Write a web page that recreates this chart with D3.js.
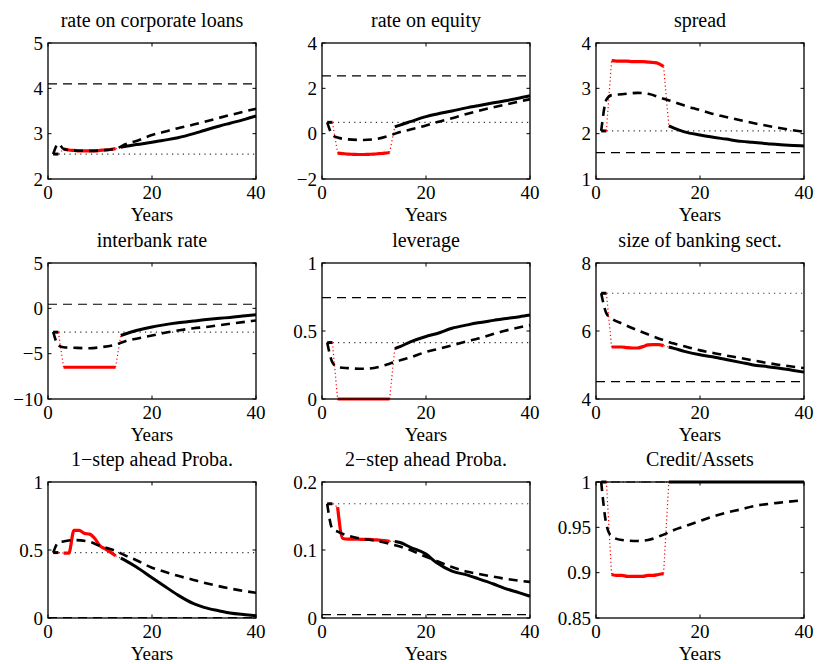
<!DOCTYPE html>
<html><head><meta charset="utf-8">
<script src="https://cdn.jsdelivr.net/npm/d3@7"></script>
<style>
body{margin:0;background:#fff}
svg{display:block}
text{font-family:"Liberation Serif","Times New Roman",serif;fill:#000}
</style></head><body>
<svg id="chart" width="818" height="664"></svg>
<script>
// ---------- data ----------
const titles = ["rate on corporate loans","rate on equity","spread",
  "interbank rate","leverage","size of banking sect.",
  "1\u2212step ahead Proba.","2\u2212step ahead Proba.","Credit/Assets"];
const yDomains = [[2,5],[-2,4],[1,4],[-10,5],[0,1],[4,8],[0,1],[0,0.2],[0.85,1]];
const yTicks = [[2,3,4,5],[-2,0,2,4],[1,2,3,4],[-10,-5,0,5],[0,0.5,1],[4,6,8],[0,0.5,1],[0,0.1,0.2],[0.85,0.9,0.95,1]];
const xTicks = [0,20,40];
const xLabel = "Years";

// dotted horizontal level (initial steady state) and dashed horizontal level
const dottedLevel = [2.55, 0.5, 2.06, -2.63, 0.415, 7.11, 0.481, 0.168, 1.0];
const dashedLevel = [4.1, 2.55, 1.58, 0.45, 0.745, 4.51, 0.003, 0.005, 1.0];

const tDash  = [1,2,3,5,8,10,13,15,17,20,22,25,28,30,35,40];
const tStart = [1,2];
const tRed   = [3,4,5,6,7,8,9,10,11,12,13];
const tBlack = [14,15,17,20,22,25,28,30,33,35,38,40];

const dashVals = [
  [2.55,2.78,2.66,2.63,2.62,2.63,2.67,2.77,2.84,2.97,3.03,3.12,3.2,3.26,3.41,3.55],
  [0.5,-0.05,-0.17,-0.25,-0.28,-0.25,-0.08,0.07,0.18,0.36,0.5,0.68,0.88,1.0,1.27,1.52],
  [2.06,2.75,2.85,2.87,2.9,2.88,2.77,2.7,2.62,2.52,2.45,2.37,2.29,2.24,2.13,2.04],
  [-2.6,-4.1,-4.3,-4.35,-4.4,-4.3,-4.0,-3.6,-3.35,-3.0,-2.75,-2.45,-2.2,-2.08,-1.7,-1.34],
  [0.415,0.27,0.235,0.227,0.222,0.228,0.26,0.284,0.305,0.346,0.365,0.395,0.425,0.444,0.5,0.543],
  [7.11,6.52,6.37,6.22,6.02,5.9,5.73,5.63,5.55,5.43,5.37,5.28,5.2,5.14,5.01,4.91],
  [0.48,0.556,0.563,0.573,0.56,0.53,0.494,0.457,0.425,0.37,0.345,0.31,0.28,0.26,0.217,0.185],
  [0.168,0.131,0.127,0.121,0.116,0.114,0.109,0.105,0.1,0.09,0.084,0.075,0.068,0.065,0.058,0.053],
  [1.0,0.953,0.94,0.936,0.935,0.936,0.942,0.947,0.951,0.957,0.961,0.966,0.97,0.973,0.977,0.98]
];
const startVals = [
  [2.55,2.55],[0.5,0.5],[2.06,2.06],[-2.63,-2.63],[0.415,0.415],[7.11,7.11],[0.481,0.481],[0.168,0.168],[1.0,1.0]
];
const redVals = [
  [2.66,2.64,2.63,2.62,2.62,2.62,2.62,2.63,2.64,2.65,2.67],
  [-0.86,-0.88,-0.9,-0.91,-0.92,-0.92,-0.91,-0.9,-0.88,-0.86,-0.83],
  [3.61,3.6,3.6,3.6,3.59,3.59,3.59,3.58,3.57,3.55,3.48],
  [-6.5,-6.5,-6.5,-6.5,-6.5,-6.5,-6.5,-6.5,-6.5,-6.5,-6.5],
  [0,0,0,0,0,0,0,0,0,0,0],
  [5.53,5.53,5.53,5.51,5.5,5.5,5.54,5.59,5.6,5.6,5.57],
  [0.477,0.477,0.645,0.645,0.622,0.617,0.585,0.53,0.508,0.485,0.458],
  [0.163,0.117,0.116,0.116,0.116,0.1155,0.1155,0.115,0.1145,0.114,0.1126],
  [0.898,0.897,0.897,0.896,0.896,0.896,0.896,0.897,0.897,0.898,0.899]
];
const blackVals = [
  [2.70,2.72,2.76,2.81,2.85,2.91,3.0,3.07,3.17,3.23,3.32,3.39],
  [0.3,0.38,0.53,0.75,0.86,1.0,1.15,1.23,1.36,1.44,1.57,1.67],
  [2.17,2.12,2.04,1.97,1.93,1.88,1.83,1.81,1.78,1.76,1.74,1.73],
  [-3.0,-2.8,-2.45,-2.05,-1.85,-1.6,-1.4,-1.27,-1.1,-1.0,-0.82,-0.71],
  [0.37,0.385,0.42,0.46,0.48,0.52,0.545,0.56,0.578,0.59,0.605,0.617],
  [5.53,5.49,5.4,5.3,5.25,5.16,5.07,5.01,4.95,4.91,4.84,4.79],
  [0.44,0.42,0.375,0.296,0.245,0.168,0.105,0.078,0.052,0.036,0.024,0.017],
  [0.1126,0.111,0.104,0.094,0.0815,0.069,0.063,0.058,0.05,0.044,0.037,0.032],
  [1,1,1,1,1,1,1,1,1,1,1,1]
];

// ---------- layout ----------
const colX = [48, 322, 596], rowY = [43, 263, 482];
const W = 208, H = 136;
const FONT = 19, TFONT = 20;
const svg = d3.select("#chart");
const fmt = d => {
  const s = String(+Math.abs(d).toFixed(3));
  return (d < 0 ? "\u2212" : "") + s;
};
const zip = (ts, vs) => ts.map((t, i) => [t, vs[i]]);

titles.forEach((title, k) => {
  const left = colX[k % 3], top = rowY[Math.floor(k / 3)];
  const g = svg.append("g").attr("transform", `translate(${left},${top})`);
  const x = d3.scaleLinear().domain([0, 40]).range([0, W]);
  const y = d3.scaleLinear().domain(yDomains[k]).range([H, 0]);
  const line = d3.line().x(d => x(d[0])).y(d => y(d[1]));
  const smooth = d3.line().x(d => x(d[0])).y(d => y(d[1])).curve(d3.curveMonotoneX);

  // horizontal reference lines
  g.append("path").attr("d", line([[0, dashedLevel[k]], [40, dashedLevel[k]]]))
    .attr("fill", "none").attr("stroke", "#000").attr("stroke-width", 1.2)
    .attr("stroke-dasharray", "9,6");
  g.append("path").attr("d", line([[1, dottedLevel[k]], [40, dottedLevel[k]]]))
    .attr("fill", "none").attr("stroke", "#333").attr("stroke-width", 1.2)
    .attr("stroke-dasharray", "1.2,4.2");

  // solid path: black start, red dotted transitions, red regime, black after
  const start = zip(tStart, startVals[k]);
  const red = zip(tRed, redVals[k]);
  const black = zip(tBlack, blackVals[k]);
  g.append("path").attr("d", line(start)).attr("fill", "none")
    .attr("stroke", "#000").attr("stroke-width", 3);
  g.append("path").attr("d", smooth(black)).attr("fill", "none")
    .attr("stroke", "#000").attr("stroke-width", 3);
  [[start[start.length - 1], red[0]], [red[red.length - 1], black[0]]].forEach(seg => {
    g.append("path").attr("d", line(seg)).attr("fill", "none")
      .attr("stroke", "#ff0000").attr("stroke-width", 1.2)
      .attr("stroke-dasharray", "1.2,2.6");
  });
  g.append("path").attr("d", smooth(red)).attr("fill", "none")
    .attr("stroke", "#ff0000").attr("stroke-width", 3.2);

  // dashed alternative path
  g.append("path").attr("d", smooth(zip(tDash, dashVals[k]))).attr("fill", "none")
    .attr("stroke", "#000").attr("stroke-width", 2.6)
    .attr("stroke-dasharray", "9,6");

  // box and inward ticks
  g.append("rect").attr("x", 0).attr("y", 0).attr("width", W).attr("height", H)
    .attr("fill", "none").attr("stroke", "#000").attr("stroke-width", 1.3);
  const tl = 3.5;
  xTicks.forEach(t => {
    g.append("line").attr("x1", x(t)).attr("x2", x(t)).attr("y1", H).attr("y2", H - tl).attr("stroke", "#000");
    g.append("line").attr("x1", x(t)).attr("x2", x(t)).attr("y1", 0).attr("y2", tl).attr("stroke", "#000");
    g.append("text").attr("x", x(t)).attr("y", H + 20).attr("text-anchor", "middle")
      .attr("font-size", FONT).text(fmt(t));
  });
  yTicks[k].forEach(v => {
    g.append("line").attr("x1", 0).attr("x2", tl).attr("y1", y(v)).attr("y2", y(v)).attr("stroke", "#000");
    g.append("line").attr("x1", W).attr("x2", W - tl).attr("y1", y(v)).attr("y2", y(v)).attr("stroke", "#000");
    g.append("text").attr("x", -5).attr("y", y(v)).attr("dy", "0.35em").attr("text-anchor", "end")
      .attr("font-size", FONT).text(fmt(v));
  });

  g.append("text").attr("x", W / 2).attr("y", -16).attr("text-anchor", "middle")
    .attr("font-size", TFONT).text(title);
  g.append("text").attr("x", W / 2).attr("y", H + 41.5).attr("text-anchor", "middle")
    .attr("font-size", FONT).text(xLabel);
});
</script>
</body></html>
